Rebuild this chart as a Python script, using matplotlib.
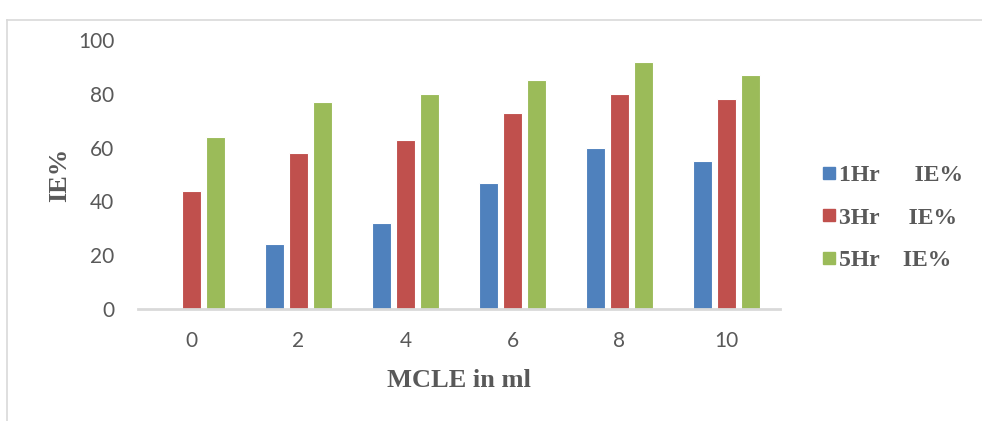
import matplotlib
matplotlib.use("Agg")
import matplotlib.pyplot as plt
from matplotlib.lines import Line2D
import numpy as np

categories = ["0", "2", "4", "6", "8", "10"]
series_names = ["1Hr      IE%", "3Hr     IE%", "5Hr    IE%"]
ie_1hr = [0, 24, 32, 47, 60, 55]
ie_3hr = [44, 58, 63, 73, 80, 78]
ie_5hr = [64, 77, 80, 85, 92, 87]
colors = ["#4f81bd", "#c0504d", "#9bbb59"]

fig = plt.figure(figsize=(9.82, 4.21), dpi=100)
ax = fig.add_axes([138/982, 112/421, 642/982, 269/421])

x = np.arange(len(categories))
w = 0.178
step = 0.224
for i, (vals, name, c) in enumerate(zip([ie_1hr, ie_3hr, ie_5hr], series_names, colors)):
    ax.bar(x + (i - 1) * step, vals, width=w, color=c, edgecolor="white", linewidth=0.8, label=name)

ax.set_xlim(-0.5, len(categories) - 0.5)
ax.set_ylim(0, 100)
ax.set_yticks([0, 20, 40, 60, 80, 100])
ax.set_xticks(x)
ax.set_xticklabels(categories)
for s in ["top", "right", "left"]:
    ax.spines[s].set_visible(False)
ax.spines["bottom"].set_color("#d9d9d9")
ax.spines["bottom"].set_linewidth(2)
ax.tick_params(axis="both", length=0, colors="#595959")
ax.tick_params(axis="y", pad=17)
ax.tick_params(axis="x", pad=16)
for lab in ax.get_xticklabels() + ax.get_yticklabels():
    lab.set_family(["Lato", "Liberation Sans", "DejaVu Sans"])
    lab.set_fontsize(15)

ax.set_ylabel("IE%", family="Liberation Serif", fontweight="bold", fontsize=19, color="#595959", labelpad=5)
ax.set_xlabel("MCLE in ml", family="Liberation Serif", fontweight="bold", fontsize=19, color="#595959", labelpad=13)

handles = [Line2D([], [], marker="s", linestyle="none", markersize=8.6, markerfacecolor=c, markeredgecolor=c) for c in colors]
leg = fig.legend(handles, series_names, loc="center left", bbox_to_anchor=(810/982, 1 - 218/421),
                 frameon=False, borderpad=0, handletextpad=0.14, labelspacing=0.88, handlelength=0.6,
                 prop={"family": "Liberation Serif", "weight": "bold", "size": 17})
for t in leg.get_texts():
    t.set_color("#595959")

fig.add_artist(Line2D([7/982, 7/982], [0, 1 - 20/421], transform=fig.transFigure, color="#d9d9d9", linewidth=1.2))
fig.add_artist(Line2D([7/982, 1], [1 - 20/421, 1 - 20/421], transform=fig.transFigure, color="#d9d9d9", linewidth=1.2))

fig.savefig("out.png", dpi=100)
